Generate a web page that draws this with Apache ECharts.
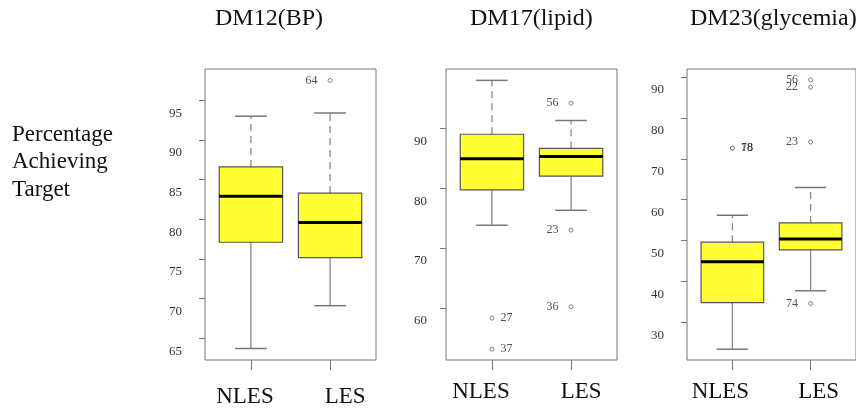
<!DOCTYPE html>
<html>
<head>
<meta charset="utf-8">
<script src="https://cdn.jsdelivr.net/npm/echarts@6/dist/echarts.min.js"></script>
<style>
html,body{margin:0;padding:0;background:#fff;}
#chart{width:856px;height:410px;}
</style>
</head>
<body>
<div id="chart"></div>
<script>
// ---- data ----
const categories = ['NLES', 'LES'];
const panelTitles = ['DM12(BP)', 'DM17(lipid)', 'DM23(glycemia)'];
const yAxisTitle = 'Percentage\nAchieving\nTarget';

// [min, Q1, median, Q3, max] for NLES, LES
const bpBoxes = [[63.7, 77.1, 82.9, 86.6, 93.0], [69.1, 75.15, 79.6, 83.3, 93.4]];
const lipidBoxes = [[73.8, 79.7, 84.9, 89.0, 98.0], [76.3, 82.0, 85.3, 86.65, 91.3]];
const glycBoxes = [[23.4, 34.8, 44.8, 49.6, 56.2], [37.7, 47.7, 50.4, 54.3, 63.0]];

// outliers: [category index (1-based), value, label]
const bpOutliers = [[2, 97.5, '64']];
const lipidOutliers = [[1, 58.3, '27'], [1, 53.1, '37'], [2, 94.2, '56'], [2, 73.0, '23'], [2, 60.2, '36']];
const glycOutliers = [[1, 72.6, '78'], [1, 72.6, '18'], [2, 89.3, '56'], [2, 87.5, '22'], [2, 74.1, '23'], [2, 34.6, '74']];

// tick labels
const bpTicks = [65, 70, 75, 80, 85, 90, 95];
const lipidTicks = [60, 70, 80, 90];
const glycTicks = [30, 40, 50, 60, 70, 80, 90];

// ---- layout / styling ----
const SERIF = "'Liberation Serif','Times New Roman',serif";
const panels = [
  {boxes: bpBoxes, outliers: bpOutliers, ticks: bpTicks, yMin: 62.25, yMax: 98.95, left: 205, labelMargin: 23, xMargin: 25, shiftL: 6, shiftR: 15},
  {boxes: lipidBoxes, outliers: lipidOutliers, ticks: lipidTicks, yMin: 51.3, yMax: 99.9, left: 446, labelMargin: 19, xMargin: 20, shiftL: 11, shiftR: 10},
  {boxes: glycBoxes, outliers: glycOutliers, ticks: glycTicks, yMin: 20.77, yMax: 91.96, left: 687, labelMargin: 23, xMargin: 20, shiftL: 12, shiftR: 8}
];
const titleX = [215, 470, 690];

const grid = [], xAxis = [], yAxis = [], series = [];
panels.forEach((p, i) => {
  grid.push({left: p.left, top: 69, width: 171, height: 291, show: true,
    borderColor: '#777', borderWidth: 1, backgroundColor: 'transparent'});
  const xFont = {fontFamily: SERIF, fontSize: 23, color: '#111'};
  xAxis.push({
    type: 'value', gridIndex: i, min: 0.42, max: 2.58,
    axisLine: {show: false}, splitLine: {show: false},
    axisTick: {show: true, length: 10, customValues: [1, 2], lineStyle: {color: '#777', width: 1}},
    axisLabel: {show: true, customValues: [1, 2], margin: p.xMargin,
      formatter: v => {
        const k = Math.round(v);
        return k === 1 ? '{l|' + categories[0] + '}' : '{r|' + categories[1] + '}';
      },
      rich: {
        l: Object.assign({padding: [0, p.shiftL * 2, 0, 0]}, xFont),
        r: Object.assign({padding: [0, 0, 0, p.shiftR * 2]}, xFont)
      },
      fontFamily: SERIF, fontSize: 23, color: '#111'}
  });
  yAxis.push({
    type: 'value', gridIndex: i, min: p.yMin, max: p.yMax,
    axisLine: {show: false}, splitLine: {show: false},
    axisTick: {show: true, length: 6, customValues: p.ticks, lineStyle: {color: '#777', width: 1}},
    axisLabel: {show: true, customValues: p.ticks, margin: p.labelMargin,
      verticalAlign: 'top', lineHeight: 26,
      fontFamily: SERIF, fontSize: 13, color: '#333'}
  });
  series.push({
    type: 'custom', xAxisIndex: i, yAxisIndex: i,
    data: p.boxes.map((b, k) => [k + 1].concat(b)),
    renderItem: function (params, api) {
      const x = api.value(0);
      const mn = api.coord([x, api.value(1)]);
      const q1 = api.coord([x, api.value(2)]);
      const md = api.coord([x, api.value(3)]);
      const q3 = api.coord([x, api.value(4)]);
      const mx = api.coord([x, api.value(5)]);
      const hw = api.size([0.8, 0])[0] / 2;
      const cw = api.size([0.4, 0])[0] / 2;
      const cx = mn[0];
      const wStyle = {stroke: '#888', lineWidth: 1.3};
      return {
        type: 'group',
        children: [
          {type: 'line', shape: {x1: cx, y1: q1[1], x2: cx, y2: mn[1]}, style: wStyle},
          {type: 'line', shape: {x1: cx, y1: q3[1], x2: cx, y2: mx[1]}, style: Object.assign({lineDash: [7, 5]}, wStyle)},
          {type: 'line', shape: {x1: cx - cw, y1: mn[1], x2: cx + cw, y2: mn[1]}, style: {stroke: '#777', lineWidth: 1.5}},
          {type: 'line', shape: {x1: cx - cw, y1: mx[1], x2: cx + cw, y2: mx[1]}, style: {stroke: '#777', lineWidth: 1.5}},
          {type: 'rect', shape: {x: cx - hw, y: q3[1], width: hw * 2, height: q1[1] - q3[1]},
            style: {fill: '#FFFF33', stroke: '#555', lineWidth: 1.2}},
          {type: 'line', shape: {x1: cx - hw, y1: md[1], x2: cx + hw, y2: md[1]}, style: {stroke: '#000', lineWidth: 3}}
        ]
      };
    }
  });
  series.push({
    type: 'scatter', xAxisIndex: i, yAxisIndex: i,
    symbol: 'circle', symbolSize: 4,
    itemStyle: {color: '#fff', borderColor: '#666', borderWidth: 1},
    data: p.outliers.map(o => ({
      value: [o[0], o[1]], name: o[2],
      label: {show: true, position: o[0] === 1 ? 'right' : 'left', distance: o[0] === 1 ? 6 : 10}
    })),
    label: {formatter: '{b}', fontFamily: SERIF, fontSize: 12, color: '#222'}
  });
});

const graphic = panelTitles.map((t, i) => ({
  type: 'text', left: titleX[i], top: 7,
  style: {text: t, font: '24px ' + SERIF, fill: '#111'}
}));
graphic.push({
  type: 'text', left: 12, top: 121,
  style: {text: yAxisTitle, font: '23px ' + SERIF, fill: '#111', lineHeight: 27.5}
});

const chart = echarts.init(document.getElementById('chart'), null, {renderer: 'canvas'});
chart.setOption({
  animation: false,
  backgroundColor: '#fff',
  grid, xAxis, yAxis, series, graphic
});
</script>
</body>
</html>
